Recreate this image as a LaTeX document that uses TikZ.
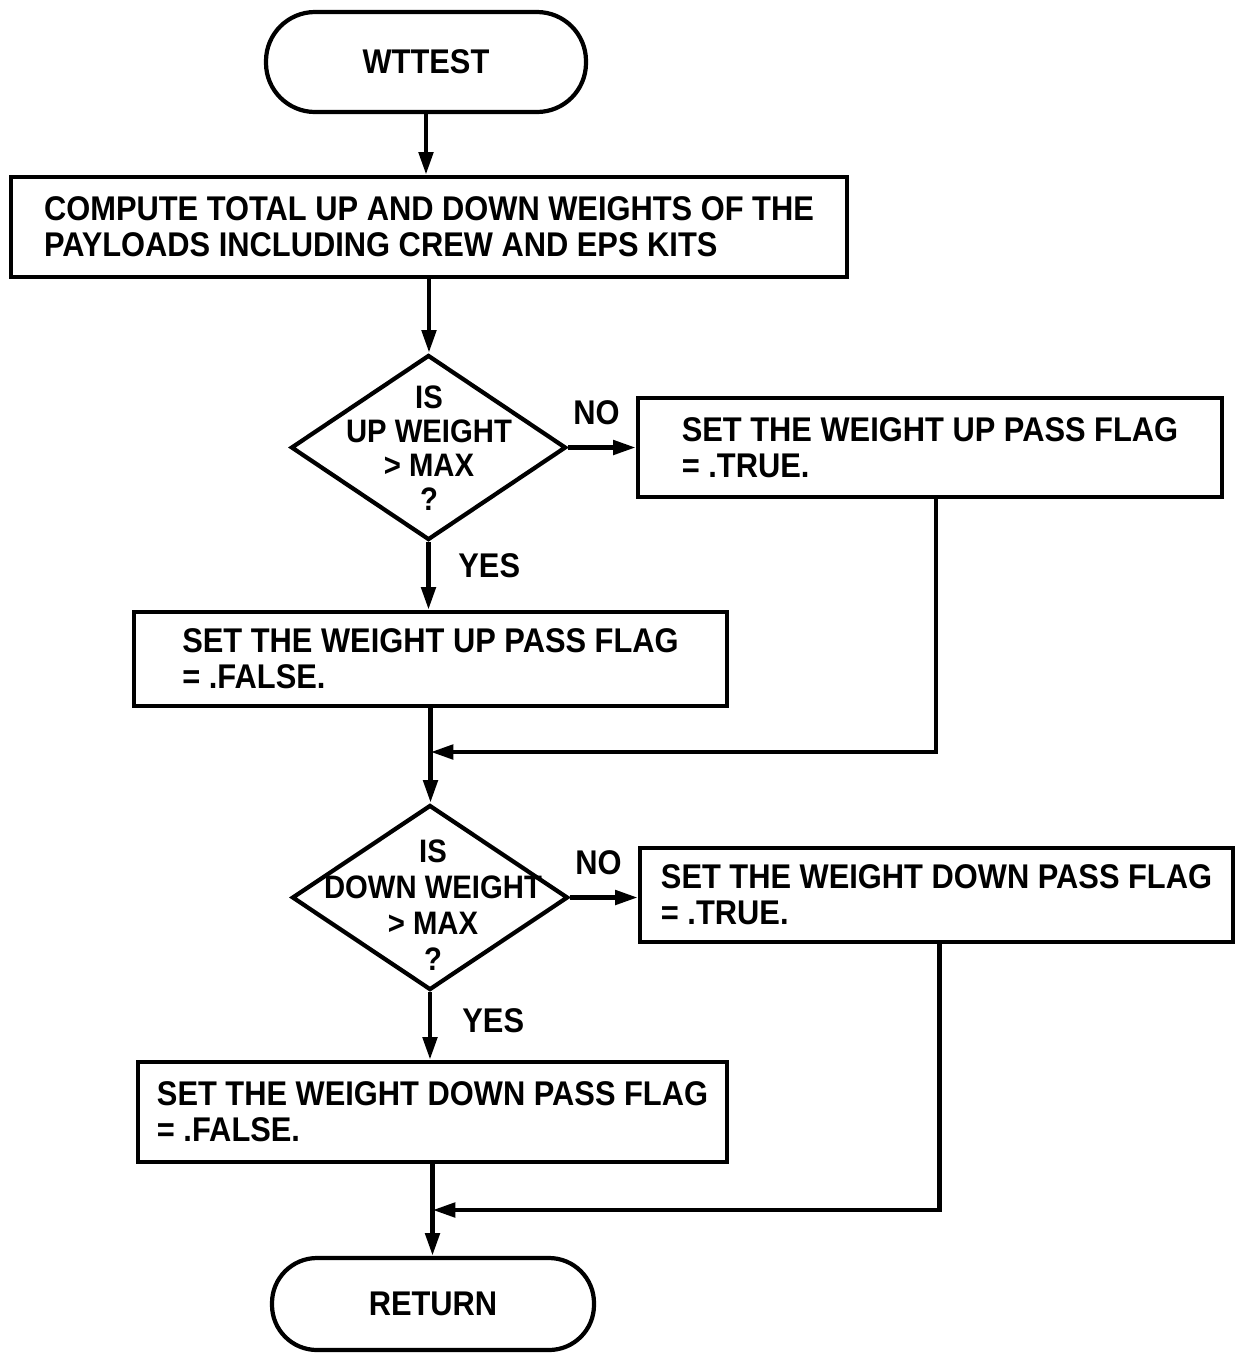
\documentclass[tikz,border=0pt]{standalone}
\usepackage{fontspec}
\setmainfont{Liberation Sans}[FakeStretch=0.9]
\usetikzlibrary{shapes.geometric,arrows.meta,calc}
\begin{document}
\begin{tikzpicture}[
  every node/.style={font=\fontsize{19.5}{20.5}\selectfont\bfseries, text=black},
  term/.style={draw, line width=2.4pt, inner sep=0pt},
  proc/.style={draw, line width=2.4pt, align=left, inner sep=0pt},
  dec/.style={draw, diamond, line width=2.4pt, inner sep=0pt},
  dectext/.style={align=center, inner sep=0pt},
  arr/.style={line width=2.7pt, -{Triangle[length=13pt,width=8pt]}},
  lab/.style={inner sep=0pt}
]
\useasboundingbox (0,0) rectangle (24.74,-27.12);

\node[term, minimum width=6.4cm, minimum height=2cm, rounded corners=0.98cm] (t1) at (8.52,-1.24) {WTTEST};
\node[proc, minimum width=16.72cm, minimum height=2cm] (b1) at (8.58,-4.54)
  {COMPUTE TOTAL UP AND DOWN WEIGHTS OF THE\\PAYLOADS INCLUDING CREW AND EPS KITS};

\node[dec, minimum width=5.5cm, minimum height=3.7cm] (d1) at (8.57,-8.95) {};
\node[dectext, font=\fontsize{18.5}{19.3}\selectfont\bfseries] (d1t) at (8.58,-8.97) {IS\\UP WEIGHT\\> MAX\\?};
\node[proc, minimum width=11.68cm, minimum height=1.98cm] (b2) at (18.6,-8.95)
  {SET THE WEIGHT UP PASS FLAG\\= .TRUE.};
\node[proc, minimum width=11.86cm, minimum height=1.88cm] (b3) at (8.61,-13.18)
  {SET THE WEIGHT UP PASS FLAG\\= .FALSE.};
\coordinate (m1) at (8.61,-15.04);

\node[dec, minimum width=5.52cm, minimum height=3.7cm] (d2) at (8.6,-17.95) {};
\node[dectext, font=\fontsize{18.5}{20.4}\selectfont\bfseries] (d2t) at (8.66,-18.1) {IS\\DOWN WEIGHT\\> MAX\\?};
\node[proc, minimum width=11.86cm, minimum height=1.88cm] (b4) at (18.73,-17.9)
  {SET THE WEIGHT DOWN PASS FLAG\\= .TRUE.};
\node[proc, minimum width=11.78cm, minimum height=2cm] (b5) at (8.65,-22.24)
  {SET THE WEIGHT DOWN PASS FLAG\\= .FALSE.};
\coordinate (m2) at (8.65,-24.2);
\node[term, minimum width=6.44cm, minimum height=1.84cm, rounded corners=0.9cm] (r1) at (8.66,-26.08) {RETURN};

\draw[arr] (t1.south) -- (t1.south |- b1.north);
\draw[arr] (b1.south) -- (b1.south |- d1.north);
\draw[arr] (d1.east) -- node[lab, pos=0.42, anchor=south, yshift=0.4cm] (no1) {NO} (d1.east -| b2.west);
\draw[arr] (d1.south) -- node[lab, pos=0.35, anchor=west, xshift=0.55cm] (yes1) {YES} (d1.south |- b3.north);
\draw[arr] (b3.south) -- (b3.south |- d2.north);
\draw[arr] ([xshift=0.12cm]b2.south) |- (m1);
\draw[arr] (d2.east) -- node[lab, pos=0.42, anchor=south, yshift=0.4cm] (no2) {NO} (d2.east -| b4.west);
\draw[arr] (d2.south) -- node[lab, pos=0.42, anchor=west, xshift=0.6cm] (yes2) {YES} (d2.south |- b5.north);
\draw[arr] (b5.south) -- (b5.south |- r1.north);
\draw[arr] ([xshift=0.06cm]b4.south) |- (m2);
\end{tikzpicture}
\end{document}
